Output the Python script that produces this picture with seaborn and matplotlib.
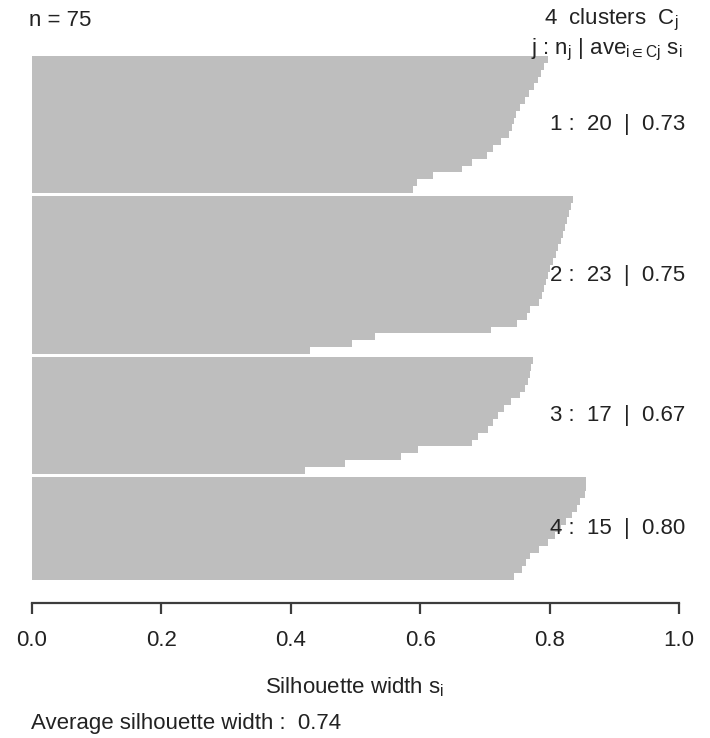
import matplotlib
matplotlib.use("Agg")
import matplotlib.pyplot as plt
import seaborn as sns
import pandas as pd
import numpy as np

sns.set_style("white")
plt.rcParams["font.family"] = ["Liberation Sans", "DejaVu Sans"]
plt.rcParams["mathtext.fontset"] = "custom"
plt.rcParams["mathtext.rm"] = "Liberation Sans"
plt.rcParams["mathtext.it"] = "Liberation Sans"

# silhouette widths per cluster, sorted within each cluster
cluster_ids = [1, 2, 3, 4]
sil_c1 = [0.797, 0.792, 0.787, 0.782, 0.776, 0.768, 0.762, 0.755, 0.748, 0.745,
          0.742, 0.738, 0.725, 0.712, 0.703, 0.680, 0.665, 0.620, 0.595, 0.589]
sil_c2 = [0.836, 0.833, 0.830, 0.827, 0.824, 0.820, 0.817, 0.813, 0.810, 0.805,
          0.800, 0.797, 0.795, 0.792, 0.788, 0.784, 0.770, 0.765, 0.750, 0.710,
          0.530, 0.494, 0.430]
sil_c3 = [0.775, 0.772, 0.770, 0.767, 0.762, 0.755, 0.740, 0.730, 0.720, 0.712,
          0.705, 0.690, 0.680, 0.597, 0.571, 0.484, 0.422]
sil_c4 = [0.857, 0.856, 0.854, 0.847, 0.842, 0.835, 0.826, 0.818, 0.808, 0.797,
          0.784, 0.770, 0.763, 0.757, 0.745]
cluster_avg = ["0.73", "0.75", "0.67", "0.80"]
avg_total = "0.74"
n_total = 75

groups = [sil_c1, sil_c2, sil_c3, sil_c4]
gap = 0.5

# stack the bars top to bottom, half a bar of space between clusters
rows = []
start = 0.0
label_pos = []
for cid, vals in zip(cluster_ids, groups):
    for i, v in enumerate(vals):
        rows.append({"pos": start + 0.5 + i, "width": v, "cluster": cid})
    label_pos.append(start + len(vals) / 2)
    start += len(vals) + gap
df = pd.DataFrame(rows)
total_h = start - gap

W, H = 710, 738
fig = plt.figure(figsize=(W / 100, H / 100), dpi=100)
ax = fig.add_axes([32 / W, 1 - 580 / H, 647 / W, 524 / H])

sns.barplot(data=df, x="width", y="pos", orient="y", native_scale=True,
            width=1, color="#bebebe", saturation=1, linewidth=0, ax=ax)

ax.set_xlim(0, 1)
ax.set_ylim(total_h, 0)
for s in ["left", "top", "right"]:
    ax.spines[s].set_visible(False)
ax.spines["bottom"].set_position(("outward", 16.3))
ax.spines["bottom"].set_color("#3c3c3c")
ax.spines["bottom"].set_linewidth(1.6)
ax.set_yticks([])
ax.set_ylabel("")
ax.set_xlabel("")
ax.set_xticks(np.arange(0, 1.01, 0.2))
ax.set_xticklabels(["0.0", "0.2", "0.4", "0.6", "0.8", "1.0"])
ax.tick_params(axis="x", direction="out", length=8, width=1.6, color="#3c3c3c",
               labelsize=16, labelcolor="#222222", pad=12, bottom=True)

txt = dict(fontsize=16, color="#222222")

def fx(px):
    return px / W

def fy(py):
    return 1 - py / H

fig.text(fx(29), fy(20), f"n = {n_total}", ha="left", va="center", **txt)
fig.text(fx(678), fy(20), f"{len(groups)}  clusters  $\\mathregular{{C_j}}$",
         ha="right", va="center", **txt)
fig.text(fx(682), fy(50),
         "j : $\\mathregular{n_j}$ | $\\mathregular{ave_{i \\in Cj}}$ $\\mathregular{s_i}$",
         ha="right", va="center", **txt)

for cid, vals, avg, yp in zip(cluster_ids, groups, cluster_avg, label_pos):
    ax.text((685 - 32) / 647, yp, f"{cid} :  {len(vals)}  |  {avg}", ha="right",
            va="center", transform=ax.get_yaxis_transform(), clip_on=False, **txt)

fig.text(fx(355), fy(687), "Silhouette width $\\mathregular{s_i}$",
         ha="center", va="center", **txt)
fig.text(fx(31), fy(723), f"Average silhouette width :  {avg_total}",
         ha="left", va="center", **txt)

fig.savefig("out.png", dpi=100, facecolor="white")
